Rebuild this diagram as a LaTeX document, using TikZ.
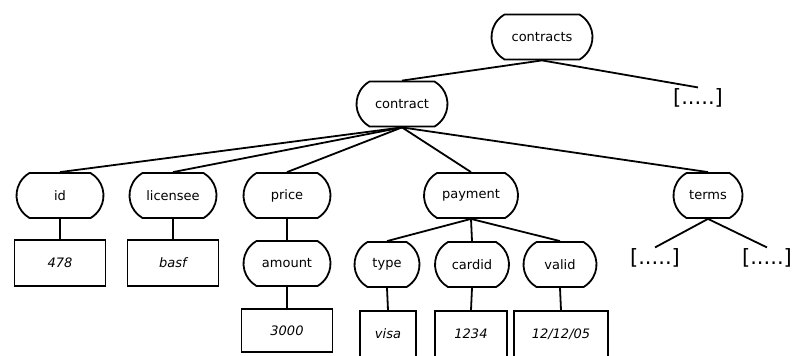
\documentclass[tikz,border=0pt]{standalone}
\usepackage{fontspec}
\setmainfont{DejaVu Sans}
\usetikzlibrary{shapes.misc}

\tikzset{
  elem/.style={rounded rectangle, rounded rectangle arc length=120, draw, line width=1.8pt,
    minimum height=45pt, inner sep=2pt, font=\fontsize{13}{15}\selectfont},
  leaf/.style={rectangle, draw, line width=1.8pt, minimum height=46pt, inner sep=2pt,
    font=\fontsize{13}{15}\selectfont\itshape},
  more/.style={inner sep=1pt, font=\fontsize{21}{23}\selectfont},
  edge/.style={line width=1.8pt}
}

\begin{document}
\begin{tikzpicture}[x=1pt, y=-1pt]
  \useasboundingbox (0,0) rectangle (793,356);
  % root and first level
  \node[elem, minimum width=105pt] (contracts) at (542,37) {contracts};
  \node[elem, minimum width=95pt] (contract) at (402,104) {contract};
  \node[more] (moreA) at (698,98) {[.....]};
  % children of contract
  \node[elem, minimum width=91pt] (id) at (60,195.5) {id};
  \node[elem, minimum width=91pt] (licensee) at (173,195.5) {licensee};
  \node[elem, minimum width=91pt] (price) at (287,195.5) {price};
  \node[elem, minimum width=98pt] (payment) at (471,195.5) {payment};
  \node[elem, minimum width=73pt] (terms) at (708,195.5) {terms};
  % values and sub elements
  \node[leaf, minimum width=91pt] (vid) at (60,263) {478};
  \node[leaf, minimum width=91pt] (vlicensee) at (173,263) {basf};
  \node[elem, minimum width=91pt] (amount) at (287,263.5) {amount};
  \node[leaf, minimum width=91pt, minimum height=43pt] (vamount) at (287,330.5) {3000};
  \node[elem, minimum width=69pt] (type) at (387,264.5) {type};
  \node[elem, minimum width=78pt] (cardid) at (472,264.5) {cardid};
  \node[elem, minimum width=77pt] (valid) at (560,264.5) {valid};
  \node[leaf, minimum width=56pt] (vtype) at (388,334) {visa};
  \node[leaf, minimum width=72pt] (vcardid) at (471,334) {1234};
  \node[leaf, minimum width=94pt] (vvalid) at (561,334) {12/12/05};
  \node[more] (moreB) at (655,258) {[.....]};
  \node[more] (moreC) at (767,258) {[.....]};
  % connectors
  \draw[edge] (contracts.south) -- (contract.north);
  \draw[edge] (contracts.south) -- (moreA.north);
  \foreach \c in {id, licensee, price, payment, terms}
    \draw[edge] (contract.south) -- (\c.north);
  \draw[edge] (id.south) -- (vid.north);
  \draw[edge] (licensee.south) -- (vlicensee.north);
  \draw[edge] (price.south) -- (amount.north);
  \draw[edge] (amount.south) -- (vamount.north);
  \foreach \c in {type, cardid, valid}
    \draw[edge] (payment.south) -- (\c.north);
  \draw[edge] (type.south) -- (vtype.north);
  \draw[edge] (cardid.south) -- (vcardid.north);
  \draw[edge] (valid.south) -- (vvalid.north);
  \draw[edge] (terms.south) -- (moreB.north);
  \draw[edge] (terms.south) -- (moreC.north);
\end{tikzpicture}
\end{document}
